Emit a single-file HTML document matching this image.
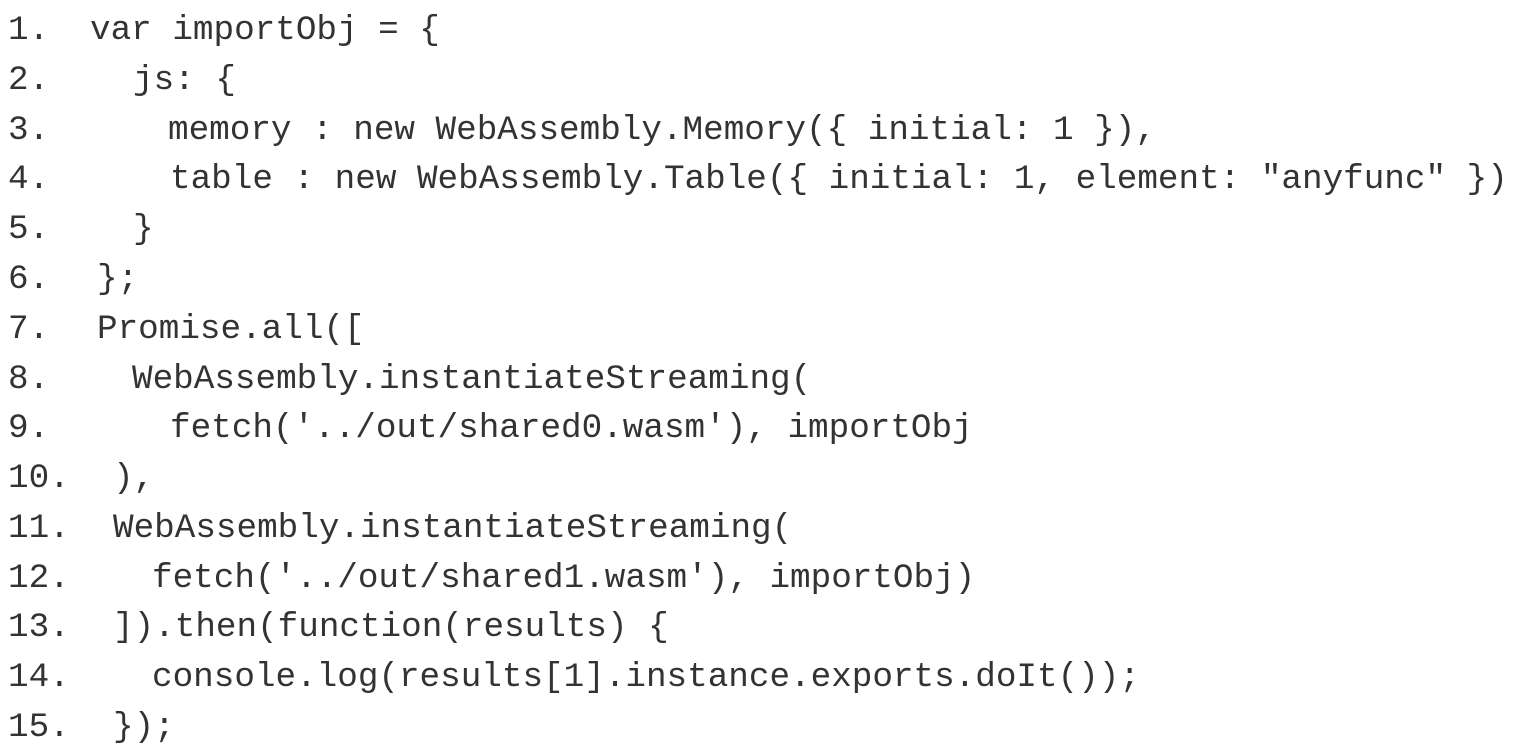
<!DOCTYPE html>
<html><head><meta charset="utf-8"><style>
html,body{margin:0;padding:0;background:#fff;}
body{width:1521px;height:751px;position:relative;overflow:hidden;font-family:"Liberation Mono",monospace;font-size:34.3px;color:#333;}
.l{position:absolute;white-space:pre;line-height:34px;}
.n{left:8px;}
</style></head><body>
<div class="l n" style="top:14px">1.</div><div class="l" style="left:90px;top:14px">var importObj = {</div>
<div class="l n" style="top:64px">2.</div><div class="l" style="left:133px;top:64px">js: {</div>
<div class="l n" style="top:114px">3.</div><div class="l" style="left:168px;top:114px">memory : new WebAssembly.Memory({ initial: 1 }),</div>
<div class="l n" style="top:163px">4.</div><div class="l" style="left:170px;top:163px">table : new WebAssembly.Table({ initial: 1, element: "anyfunc" })</div>
<div class="l n" style="top:213px">5.</div><div class="l" style="left:133px;top:213px">}</div>
<div class="l n" style="top:263px">6.</div><div class="l" style="left:97px;top:263px">};</div>
<div class="l n" style="top:313px">7.</div><div class="l" style="left:97px;top:313px">Promise.all([</div>
<div class="l n" style="top:363px">8.</div><div class="l" style="left:132px;top:363px">WebAssembly.instantiateStreaming(</div>
<div class="l n" style="top:412px">9.</div><div class="l" style="left:170px;top:412px">fetch('../out/shared0.wasm'), importObj</div>
<div class="l n" style="top:462px">10.</div><div class="l" style="left:113px;top:462px">),</div>
<div class="l n" style="top:512px">11.</div><div class="l" style="left:113px;top:512px">WebAssembly.instantiateStreaming(</div>
<div class="l n" style="top:562px">12.</div><div class="l" style="left:152px;top:562px">fetch('../out/shared1.wasm'), importObj)</div>
<div class="l n" style="top:611px">13.</div><div class="l" style="left:113px;top:611px">]).then(function(results) {</div>
<div class="l n" style="top:661px">14.</div><div class="l" style="left:152px;top:661px">console.log(results[1].instance.exports.doIt());</div>
<div class="l n" style="top:711px">15.</div><div class="l" style="left:113px;top:711px">});</div>
</body></html>
